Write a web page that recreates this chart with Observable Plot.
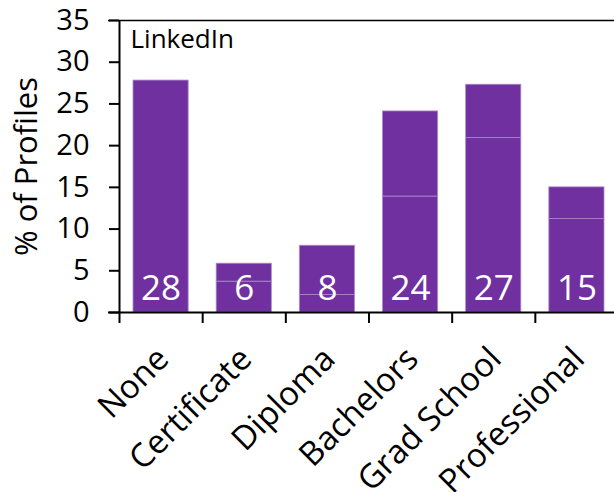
<!DOCTYPE html>
<html>
<head>
<meta charset="utf-8">
<script src="https://cdn.jsdelivr.net/npm/d3@7"></script>
<script src="https://cdn.jsdelivr.net/npm/@observablehq/plot@0.6"></script>
<style>
  html, body { margin: 0; padding: 0; background: #fff; }
  svg { display: block; }
</style>
</head>
<body>
<div id="chart"></div>
<script>
const categories = ["None", "Certificate", "Diploma", "Bachelors", "Grad School", "Professional"];
const lowerPart = [27.8, 3.7, 2.1, 13.9, 20.9, 11.2];
const totals = [27.8, 5.85, 8.0, 24.1, 27.3, 15.0];
const valueLabels = ["28", "6", "8", "24", "27", "15"];
const yTicks = [0, 5, 10, 15, 20, 25, 30, 35];
const panelTitle = "LinkedIn";
const yLabel = "% of Profiles";

const segments = [];
categories.forEach((c, i) => {
  segments.push({x1: i, x2: i + 1, y1: 0, y2: lowerPart[i]});
  if (totals[i] > lowerPart[i]) segments.push({x1: i, x2: i + 1, y1: lowerPart[i], y2: totals[i]});
});
const cats = categories.map((c, i) => ({c, xc: i + 0.5, label: valueLabels[i]}));

const font = "'Open Sans', sans-serif";

const chart = Plot.plot({
  width: 614,
  height: 492,
  marginLeft: 119,
  marginRight: 0,
  marginTop: 20,
  marginBottom: 180,
  style: {fontFamily: font, color: "#000", background: "#fff"},
  x: {domain: [0, 6], range: [119, 618], axis: null},
  y: {domain: [0, 35], axis: null},
  marks: [
    Plot.rect(segments, {x1: "x1", x2: "x2", y1: "y1", y2: "y2", fill: "#7030A0", stroke: "#a98bcb", strokeWidth: 0.8, insetLeft: 14, insetRight: 14}),
    Plot.text(cats, {x: "xc", y: 0, text: "label", fill: "#fff", fontSize: 35, lineAnchor: "bottom", dy: -13}),
    Plot.axisY({ticks: yTicks, tickSize: 10, tickPadding: 20, fontSize: 29, strokeWidth: 2, label: null}),
    Plot.axisX({ticks: [0, 1, 2, 3, 4, 5], tickFormat: () => "", tickSize: 11, strokeWidth: 2, label: null}),
    Plot.ruleX([0], {y1: 0, y2: 35, strokeWidth: 2}),
    Plot.ruleY([0], {strokeWidth: 2, insetLeft: -11}),
    Plot.ruleY([35], {strokeWidth: 1.5, insetLeft: -11}),
    Plot.text(cats, {x: "xc", y: 0, text: "c", rotate: -45, textAnchor: "end", fontSize: 33, dx: 2, dy: 41, fill: "#000"}),
    Plot.text([panelTitle], {frameAnchor: "top-left", textAnchor: "start", lineAnchor: "top", dx: 11, dy: 9, fontSize: 26, fill: "#000"}),
    Plot.text([yLabel], {frameAnchor: "left", textAnchor: "middle", rotate: -90, dx: -92, fontSize: 31, fill: "#000"})
  ]
});
document.getElementById("chart").append(chart);
</script>
</body>
</html>
